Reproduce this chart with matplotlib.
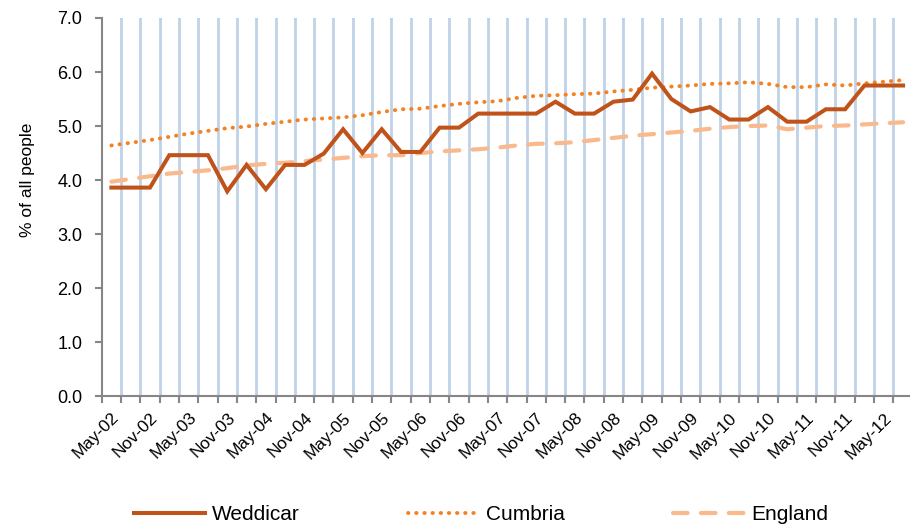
import numpy as np
import matplotlib.pyplot as plt

plt.rcParams['font.family'] = ['Liberation Sans', 'DejaVu Sans']

# quarterly labels, May-02 .. Aug-12
quarters = ['May-02', 'Aug-02', 'Nov-02', 'Feb-03', 'May-03', 'Aug-03', 'Nov-03', 'Feb-04',
            'May-04', 'Aug-04', 'Nov-04', 'Feb-05', 'May-05', 'Aug-05', 'Nov-05', 'Feb-06',
            'May-06', 'Aug-06', 'Nov-06', 'Feb-07', 'May-07', 'Aug-07', 'Nov-07', 'Feb-08',
            'May-08', 'Aug-08', 'Nov-08', 'Feb-09', 'May-09', 'Aug-09', 'Nov-09', 'Feb-10',
            'May-10', 'Aug-10', 'Nov-10', 'Feb-11', 'May-11', 'Aug-11', 'Nov-11', 'Feb-12',
            'May-12', 'Aug-12']

weddicar = [3.86, 3.86, 3.86, 4.46, 4.46, 4.46, 3.79, 4.28, 3.83, 4.28,
            4.28, 4.49, 4.94, 4.50, 4.94, 4.52, 4.52, 4.97, 4.97, 5.23,
            5.23, 5.23, 5.23, 5.45, 5.23, 5.23, 5.45, 5.49, 5.97, 5.50,
            5.27, 5.35, 5.12, 5.12, 5.35, 5.08, 5.08, 5.31, 5.31, 5.75,
            5.75, 5.75]

cumbria = [4.64, 4.69, 4.74, 4.80, 4.86, 4.91, 4.96, 4.99, 5.04, 5.08,
           5.12, 5.14, 5.16, 5.20, 5.26, 5.31, 5.32, 5.37, 5.41, 5.44,
           5.46, 5.52, 5.56, 5.57, 5.59, 5.60, 5.64, 5.67, 5.71, 5.73,
           5.75, 5.78, 5.79, 5.81, 5.78, 5.72, 5.72, 5.77, 5.75, 5.79,
           5.82, 5.85]

england = [3.97, 4.02, 4.07, 4.12, 4.15, 4.18, 4.22, 4.27, 4.30, 4.32,
           4.35, 4.38, 4.41, 4.44, 4.46, 4.46, 4.50, 4.53, 4.55, 4.57,
           4.60, 4.64, 4.67, 4.68, 4.70, 4.74, 4.78, 4.82, 4.85, 4.88,
           4.91, 4.95, 4.98, 5.00, 5.01, 4.94, 4.97, 5.00, 5.01, 5.03,
           5.05, 5.07]

fig = plt.figure(figsize=(9.1, 5.26), dpi=100)
ax = fig.add_axes([0.1118, 0.247, 0.8912, 0.7188])

x = np.arange(len(quarters))

# griglia verticale tra una categoria e l'altra
for b in np.arange(0.5, len(quarters) - 0.5, 1):
    ax.axvline(b, color='#c0d2e8', lw=2, zorder=0)

ax.plot(x, weddicar, color='#c0531a', lw=2.9, solid_joinstyle='miter', label='Weddicar', zorder=3)
ax.plot(x, cumbria, color='#f58220', lw=2.8, dashes=(0.1, 2.0), dash_capstyle='round',
        label='Cumbria', zorder=2)
ax.plot(x, england, color='#fab98c', lw=3.0, dashes=(3.5, 3.2), dash_capstyle='round',
        label='England', zorder=1)

ax.set_xlim(-0.5, len(quarters) - 0.5)
ax.set_ylim(0, 7)
ax.set_yticks(np.arange(0, 7.1, 1))
ax.set_yticklabels(['%.1f' % v for v in np.arange(0, 7.1, 1)], fontsize=13)

ax.set_xticks(x[::2])
ax.set_xticklabels(quarters[::2], rotation=45, ha='right', rotation_mode='anchor', fontsize=12.5)
ax.set_xticks(np.arange(-0.5, len(quarters), 1), minor=True)
ax.tick_params(axis='x', which='major', length=0, pad=10)
ax.tick_params(axis='x', which='minor', length=5, width=1.5, color='#868686')
ax.tick_params(axis='y', length=5, width=1.5, color='#868686', pad=9)

for s in ['top', 'right']:
    ax.spines[s].set_visible(False)
for s in ['left', 'bottom']:
    ax.spines[s].set_color('#868686')
    ax.spines[s].set_linewidth(1.5)

ax.set_ylabel('% of all people', fontsize=12.5)
ax.yaxis.set_label_coords(-0.082, 0.571)

fig.legend(loc='center', bbox_to_anchor=(0.5286, 0.022), ncol=3, frameon=False,
           fontsize=15, handlelength=3.4, columnspacing=5.2, handletextpad=0.35)

plt.savefig('out.png', dpi=100)
